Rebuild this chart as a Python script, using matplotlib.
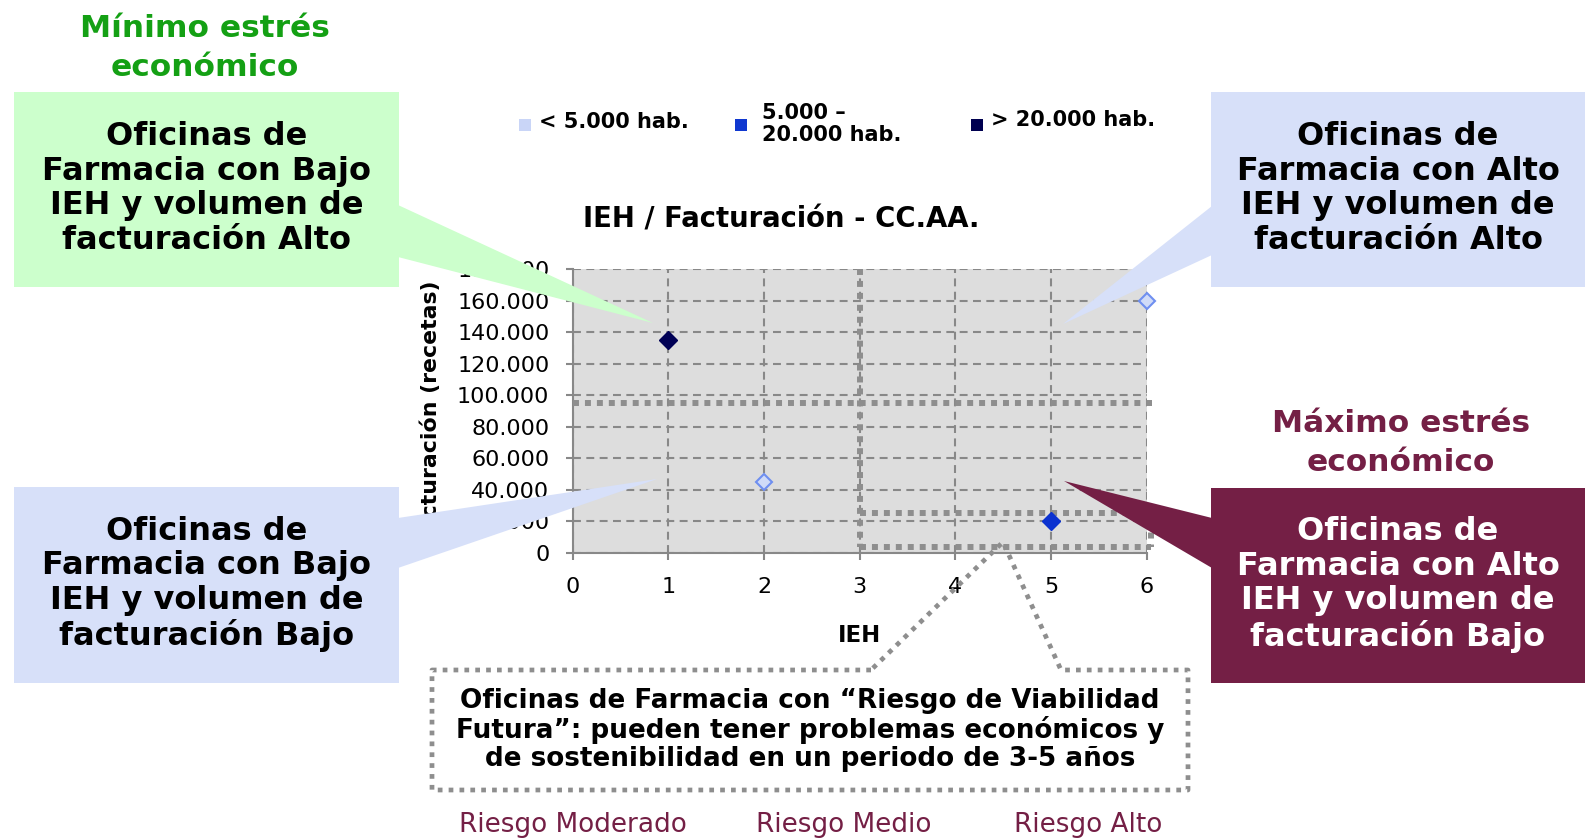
import matplotlib
matplotlib.use("Agg")
import matplotlib.pyplot as plt
from matplotlib.patches import Rectangle, Polygon
from matplotlib.ticker import FuncFormatter

# ---------------- data ----------------
series_names = ["< 5.000 hab.", "5.000 \u2013\n20.000 hab.", "> 20.000 hab."]
ieh_small = [2, 6]
fact_small = [45000, 160000]
ieh_mid = [5]
fact_mid = [20000]
ieh_large = [1]
fact_large = [135000]

x_ticks = [0, 1, 2, 3, 4, 5, 6]
y_ticks = [0, 20000, 40000, 60000, 80000, 100000, 120000, 140000, 160000, 180000]

fact_threshold = 95000          # horizontal dotted reference line
ieh_threshold = 3               # vertical dotted reference line
risk_box_x = [3, 6.05]
risk_box_y = [3800, 25400]

risk_labels = ["Riesgo Moderado", "Riesgo Medio", "Riesgo Alto"]

# ---------------- figure ----------------
W, H = 1585, 840
fig = plt.figure(figsize=(W / 100, H / 100), dpi=100)
plt.rcParams['font.family'] = ['DejaVu Sans']

GRAY = '#888888'
DOT = '#8e8e8e'
MAROON = '#741f45'
GREEN = '#14a014'

x0, x1, y0, y1 = 572.7, 1146.7, 552.7, 269.0
ax = fig.add_axes([x0 / W, 1 - y0 / H, (x1 - x0) / W, (y0 - y1) / H])
ax.set_xlim(0, 6)
ax.set_ylim(0, 180000)
ax.set_facecolor('#dddddd')
for s in ['top', 'right']:
    ax.spines[s].set_visible(False)
for s in ['left', 'bottom']:
    ax.spines[s].set_color(GRAY)
    ax.spines[s].set_linewidth(1.5)
ax.set_xticks(x_ticks)
ax.set_yticks(y_ticks)
ax.yaxis.set_major_formatter(FuncFormatter(lambda v, p: f"{int(v):,}".replace(",", ".")))
ax.tick_params(axis='both', direction='out', length=4.8, width=1.5, color=GRAY,
               labelsize=16, labelcolor='black')
ax.tick_params(axis='y', pad=12)
ax.tick_params(axis='x', pad=13)
ax.grid(True, color=GRAY, linestyle=(0, (3.8, 2.6)), linewidth=1.5)
ax.set_axisbelow(True)

# dotted reference lines
dot_kw = dict(color=DOT, linewidth=4.3, linestyle=(0, (1, 1)), solid_capstyle='butt',
              dash_capstyle='butt', clip_on=False, zorder=3)
ax.plot([0, 6.06], [fact_threshold, fact_threshold], **dot_kw)
ax.plot([ieh_threshold, ieh_threshold], [180000, risk_box_y[0]], **dot_kw)
ax.plot([risk_box_x[0], risk_box_x[1], risk_box_x[1]],
        [risk_box_y[1], risk_box_y[1], risk_box_y[0]], **dot_kw)
ax.plot([risk_box_x[0], risk_box_x[1]], [risk_box_y[0], risk_box_y[0]], **dot_kw)

# points
ax.plot(ieh_small, fact_small, linestyle='none', marker='D', markersize=8.5,
        markerfacecolor='#d0dbf8', markeredgecolor='#6f8ff0', markeredgewidth=1.5,
        zorder=5, clip_on=False)
ax.plot(ieh_mid, fact_mid, linestyle='none', marker='D', markersize=9,
        markerfacecolor='#0b32d0', markeredgecolor='#0b32d0', zorder=5, clip_on=False)
ax.plot(ieh_large, fact_large, linestyle='none', marker='D', markersize=9,
        markerfacecolor='#000055', markeredgecolor='#000055', zorder=5, clip_on=False)

ax.set_xlabel("IEH", fontsize=16.5, fontweight='bold')
ax.xaxis.label.set_va('baseline')
ax.xaxis.set_label_coords((859 - x0) / (x1 - x0), (y0 - 642) / (y0 - y1))
ax.set_ylabel("Facturaci\u00f3n (recetas)", fontsize=15.8, fontweight='bold')
ax.yaxis.label.set_va('center')
ax.yaxis.set_label_coords((431 - x0) / (x1 - x0), 0.49)

# ---------------- overlay (pixel coordinates) ----------------
ov = fig.add_axes([0, 0, 1, 1], zorder=10)
ov.set_xlim(0, W)
ov.set_ylim(H, 0)
ov.set_axis_off()

GREENBOX = '#ccffcc'
BLUEBOX = '#d7e0f9'

def callout(rect, wedge, color, text, tcolor):
    bx, by, bw, bh = rect
    ov.add_patch(Polygon(wedge, closed=True, facecolor=color, edgecolor='none'))
    ov.add_patch(Rectangle((bx, by), bw, bh, facecolor=color, edgecolor='none'))
    ov.text(bx + bw / 2, by + bh / 2 - 1, text, ha='center', va='center', fontsize=23,
            fontweight='bold', color=tcolor, linespacing=1.14)

callout((14, 92, 385, 195), [(398, 205), (653, 323), (398, 257)], GREENBOX,
        "Oficinas de\nFarmacia con Bajo\nIEH y volumen de\nfacturaci\u00f3n Alto", 'black')
callout((14, 487, 385, 196), [(398, 518), (657, 479), (398, 568)], BLUEBOX,
        "Oficinas de\nFarmacia con Bajo\nIEH y volumen de\nfacturaci\u00f3n Bajo", 'black')
callout((1211, 92, 374, 195), [(1212, 206), (1063, 324), (1212, 255)], BLUEBOX,
        "Oficinas de\nFarmacia con Alto\nIEH y volumen de\nfacturaci\u00f3n Alto", 'black')
callout((1211, 488, 374, 195), [(1212, 518), (1064, 481), (1212, 568)], MAROON,
        "Oficinas de\nFarmacia con Alto\nIEH y volumen de\nfacturaci\u00f3n Bajo", 'white')

ov.text(205, 48, "M\u00ednimo estr\u00e9s\necon\u00f3mico", ha='center', va='center',
        fontsize=22.5, fontweight='bold', color=GREEN, linespacing=1.45)
ov.text(1401, 443, "M\u00e1ximo estr\u00e9s\necon\u00f3mico", ha='center', va='center',
        fontsize=22.5, fontweight='bold', color=MAROON, linespacing=1.45)

ov.text(781, 220, "IEH / Facturaci\u00f3n - CC.AA.", ha='center', va='center',
        fontsize=19.8, fontweight='bold', color='black')

# legend
leg_colors = ['#c9d5f7', '#1038d0', '#000050']
leg_swatch = [(525, 125), (741, 125), (977, 125)]
leg_text = [(539, 122), (762, 124), (991, 120)]
for name, col, (sx, sy), (tx, ty) in zip(series_names, leg_colors, leg_swatch, leg_text):
    ov.add_patch(Rectangle((sx - 6, sy - 6), 12, 12, facecolor=col, edgecolor='none'))
    ov.text(tx, ty, name, ha='left', va='center', fontsize=15, fontweight='bold',
            color='black', linespacing=1.1)

# dotted callout box at bottom
box_x = [871, 432, 432, 1188, 1188, 1061, 1003, 871]
box_y = [670, 670, 790, 790, 670, 670, 542, 670]
ov.plot(box_x, box_y, color=DOT, linewidth=3.4, linestyle=(0, (1, 1.3)),
        dash_capstyle='butt', solid_joinstyle='miter')
ov.text(810, 730, "Oficinas de Farmacia con \u201cRiesgo de Viabilidad\nFutura\u201d: pueden tener problemas econ\u00f3micos y\nde sostenibilidad en un periodo de 3-5 a\u00f1os",
        ha='center', va='center', fontsize=18.9, fontweight='bold', color='black',
        linespacing=1.08)

for lab, cx in zip(risk_labels, [573, 844, 1088]):
    ov.text(cx, 825, lab, ha='center', va='center', fontsize=18.9, color=MAROON)

fig.savefig("out.png", dpi=100)
